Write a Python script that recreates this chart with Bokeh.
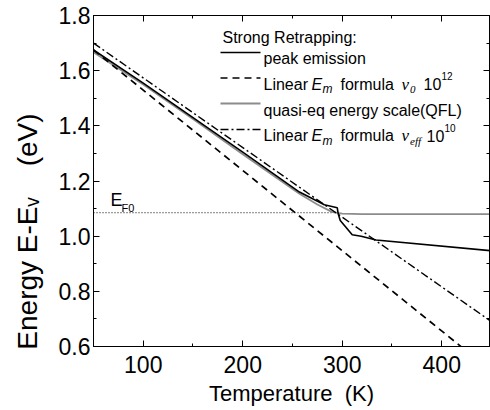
from bokeh.plotting import figure
from bokeh.models import FixedTicker, LinearAxis, Label
from bokeh.embed import file_html
from bokeh.resources import INLINE

# Temperature (K) and energy (eV) of each curve
t_peak = [50, 100, 150, 200, 257, 282, 295, 296, 298, 310, 319, 334, 450]
e_peak = [1.675, 1.555, 1.43, 1.305, 1.16, 1.114, 1.103, 1.08, 1.057, 1.005, 1.0, 0.986, 0.947]

t_qfl = [50, 100, 150, 200, 257, 275, 290, 300, 320, 450]
e_qfl = [1.667, 1.55, 1.425, 1.297, 1.154, 1.115, 1.087, 1.082, 1.08, 1.08]

t_lin12 = [50, 420]
e_lin12 = [1.675, 0.598]

t_lineff = [50, 450]
e_lineff = [1.70, 0.69]

t_f0 = [50, 290]
e_f0 = [1.085, 1.085]

x_ticks = [100, 200, 300, 400]
x_minor = [50, 150, 250, 350, 450]
x_tick_labels = ["100", "200", "300", "400"]
y_ticks = [0.6, 0.8, 1.0, 1.2, 1.4, 1.6, 1.8]
y_minor = [0.7, 0.9, 1.1, 1.3, 1.5, 1.7]
y_tick_labels = ["0.6", "0.8", "1.0", "1.2", "1.4", "1.6", "1.8"]

# canvas and frame geometry (pixels)
W, H = 490, 410
BL, BR, BT, BB = 93, 1, 15, 64
FW, FH = W - BL - BR, H - BT - BB
X0, X1 = 50, 448
Y0, Y1 = 0.6, 1.8

SANS = "Liberation Sans"
SERIF = "Liberation Serif"
NBSP = "\u00a0"


def dx(px):
    return X0 + (px - BL) * (X1 - X0) / FW


def dy(py):
    return Y1 - (py - BT) * (Y1 - Y0) / FH


p = figure(width=W, height=H, x_range=(X0, X1), y_range=(Y0, Y1),
           output_backend="svg", toolbar_location=None,
           min_border_left=BL, min_border_right=BR,
           min_border_top=BT, min_border_bottom=BB)
p.background_fill_color = "white"
p.border_fill_color = "white"
p.outline_line_color = "black"
p.outline_line_width = 1
p.xgrid.grid_line_color = None
p.ygrid.grid_line_color = None

xt = FixedTicker(ticks=x_ticks, minor_ticks=x_minor)
yt = FixedTicker(ticks=y_ticks, minor_ticks=y_minor)


def style_axis(ax, labels=True):
    ax.axis_line_color = "black"
    ax.major_tick_in = 6
    ax.major_tick_out = 0
    ax.minor_tick_in = 3
    ax.minor_tick_out = 0
    ax.major_tick_line_color = "black"
    ax.minor_tick_line_color = "black"
    if labels:
        ax.major_label_text_font = SANS
        ax.major_label_text_font_size = "23px"
        ax.major_label_text_color = "black"
        ax.axis_label_text_font = SANS
        ax.axis_label_text_font_style = "normal"
        ax.axis_label_text_color = "black"
    else:
        ax.major_label_text_font_size = "0px"
        ax.major_label_standoff = 0


p.xaxis.ticker = xt
p.yaxis.ticker = yt
p.xaxis.major_label_overrides = dict(zip(x_ticks, x_tick_labels))
p.yaxis.major_label_overrides = dict(zip(y_ticks, y_tick_labels))
style_axis(p.xaxis[0])
style_axis(p.yaxis[0])
p.xaxis.major_label_standoff = 9
p.yaxis.major_label_standoff = 3

p.xaxis.axis_label = "Temperature" + NBSP * 2 + "(K)"
p.xaxis.axis_label_text_font_size = "22px"
p.xaxis.axis_label_standoff = 5

# trailing blanks move the centred title down along the axis
p.yaxis.axis_label = "Energy E-E\u1d65" + NBSP * 4 + "(eV)" + NBSP * 13
p.yaxis.axis_label_text_font_size = "28px"
p.yaxis.axis_label_standoff = 13

top = LinearAxis(ticker=xt)
style_axis(top, labels=False)
p.add_layout(top, "above")
right = LinearAxis(ticker=yt)
style_axis(right, labels=False)
p.add_layout(right, "right")

# curves
p.line(t_f0, e_f0, line_color="black", line_width=1, line_dash="1 2")
p.line(t_qfl, e_qfl, line_color="#8c8c8c", line_width=1.8)
p.line(t_lin12, e_lin12, line_color="black", line_width=1.7, line_dash="7 5")
p.line(t_lineff, e_lineff, line_color="black", line_width=1.4, line_dash="8 3 2 3")
p.line(t_peak, e_peak, line_color="black", line_width=1.6)


def ptxt(x, y, s, size, font=SANS, style="normal"):
    p.add_layout(Label(x=dx(x), y=dy(y), text=s, text_font=font,
                       text_font_size=f"{size}px", text_font_style=style,
                       text_color="black", text_align="left",
                       text_baseline="alphabetic"))


# legend
ptxt(222, 37, "Strong Retrapping:", 16)
rows = [
    (52, dict(line_color="black", line_width=1.6)),
    (77.5, dict(line_color="black", line_width=1.7, line_dash="7 5")),
    (103, dict(line_color="#8c8c8c", line_width=1.8)),
    (129, dict(line_color="black", line_width=1.4, line_dash="8 3 2 3")),
]
for yy, kw in rows:
    p.line([dx(220), dx(260)], [dy(yy), dy(yy)], **kw)

ptxt(263, 58, "peak emission", 16)
ptxt(263, 109.5, "quasi-eq energy scale(QFL)", 16)

for base, sub, supval in [(83.5, "0", "12"), (135, "eff", "10")]:
    ptxt(263, base, "Linear", 16)
    ptxt(311, base, "E", 16, style="italic")
    ptxt(322, base + 5, "m", 12, style="italic")
    ptxt(340, base, "formula", 16)
    ptxt(401, base, "\u03bd", 17, font=SERIF, style="italic")
    ptxt(409.5, base + 5, sub, 11, font=SERIF, style="italic")
    nx = 423 if sub == "0" else 426
    ptxt(nx, base, "10", 16)
    ptxt(nx + 18, base - 8, supval, 10)

# Fermi level marker
ptxt(110, 199.5, "E", 18)
ptxt(121, 207.5, "F0", 11)

open("out.html", "w").write(file_html(p, INLINE))
